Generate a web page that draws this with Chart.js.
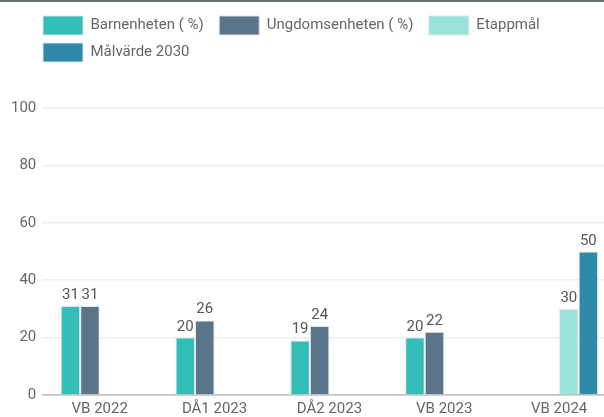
<!DOCTYPE html>
<html lang="sv">
<head>
<meta charset="utf-8">
<title>Andel per enhet</title>
<script src="https://cdn.jsdelivr.net/npm/chart.js@4"></script>
<style>
  html, body { margin: 0; padding: 0; background: #fff; overflow: hidden; }
  .frame { border-top: 2px solid #66716a; width: 604px; height: 415px; overflow: hidden; }
  .chart-box { position: relative; width: 625px; height: 423px; }
</style>
</head>
<body>
<div class="frame">
  <div class="chart-box"><canvas id="unit-chart"></canvas></div>
</div>
<script>
// --- Data ---
const categories = ['VB 2022', 'DÅ1 2023', 'DÅ2 2023', 'VB 2023', 'VB 2024'];
const barnenheten = [31, 20, 19, 20, null];
const ungdomsenheten = [31, 26, 24, 22, null];
const etappmal = [null, null, null, null, 30];
const malvarde2030 = [null, null, null, null, 50];
const yTicks = [0, 20, 40, 60, 80, 100];

// --- Utseende ---
const FONT = 'Roboto';
const TEXT_COLOR = '#666';
const LEGEND_SHIFT = 30;   // legenden börjar vid diagramytans vänsterkant
const LEGEND_EXTRA = 36;   // luft mellan legend och diagram

// värdeetiketter ovanför staplarna
const valueLabels = {
  id: 'valueLabels',
  afterDatasetsDraw(chart) {
    const ctx = chart.ctx;
    ctx.save();
    ctx.font = `15px ${FONT}`;
    ctx.fillStyle = '#555';
    ctx.textAlign = 'center';
    ctx.textBaseline = 'alphabetic';
    chart.data.datasets.forEach((ds, i) => {
      const meta = chart.getDatasetMeta(i);
      meta.data.forEach((bar, j) => {
        const v = ds.data[j];
        if (v === null || v === undefined) return;
        ctx.fillText(String(v), bar.x, bar.y - 7);
      });
    });
    ctx.restore();
  }
};

// flytta legenden och lägg till luft under den
const legendLayout = {
  id: 'legendLayout',
  beforeInit(chart) {
    const origFit = chart.legend.fit;
    chart.legend.fit = function () {
      origFit.call(this);
      this.height += LEGEND_EXTRA;
    };
  },
  afterLayout(chart) {
    chart.legend.left += LEGEND_SHIFT;
    chart.legend.right += LEGEND_SHIFT;
  }
};

function makeDataset(label, data, color) {
  return {
    label: label,
    data: data,
    backgroundColor: color,
    borderColor: 'rgba(225, 228, 232, 0.9)',
    borderWidth: 1,
    categoryPercentage: 0.68,
    barPercentage: 1.0
  };
}

const datasets = [
  makeDataset('Barnenheten ( %)', barnenheten, '#34beb9'),
  makeDataset('Ungdomsenheten ( %)', ungdomsenheten, '#5a748a'),
  makeDataset('Etappmål', etappmal, '#99e3dd'),
  makeDataset('Målvärde 2030', malvarde2030, '#2f8aaa')
];

new Chart(document.getElementById('unit-chart'), {
  type: 'bar',
  data: { labels: categories, datasets: datasets },
  plugins: [valueLabels, legendLayout],
  options: {
    responsive: true,
    maintainAspectRatio: false,
    animation: false,
    layout: { padding: { left: 5, right: 8.5, top: 6, bottom: 2 } },
    plugins: {
      legend: {
        position: 'top',
        align: 'start',
        labels: {
          boxWidth: 40,
          boxHeight: 19,
          padding: 8,
          color: TEXT_COLOR,
          font: { family: FONT, size: 15 },
          // två mellanslag ger samma luft mellan posterna som i förlagan
          generateLabels(chart) {
            return Chart.defaults.plugins.legend.labels.generateLabels(chart)
              .map(item => ({ ...item, text: item.text + '  ' }));
          }
        }
      },
      tooltip: { enabled: false }
    },
    scales: {
      x: {
        grid: { display: false, drawTicks: false },
        border: { display: true, color: '#c4c4c4', width: 1.5 },
        ticks: { color: TEXT_COLOR, font: { family: FONT, size: 15 }, padding: 5, maxRotation: 0 }
      },
      y: {
        min: yTicks[0],
        max: yTicks[yTicks.length - 1],
        afterBuildTicks(axis) { axis.ticks = yTicks.map(v => ({ value: v })); },
        grid: {
          drawTicks: false,
          color: ctx => (ctx.tick && ctx.tick.value === 0) ? '#c4c4c4' : '#eceef1',
          lineWidth: 1.5
        },
        border: { display: false },
        ticks: { color: TEXT_COLOR, font: { family: FONT, size: 15 }, padding: 6 }
      }
    }
  }
});
</script>
</body>
</html>
